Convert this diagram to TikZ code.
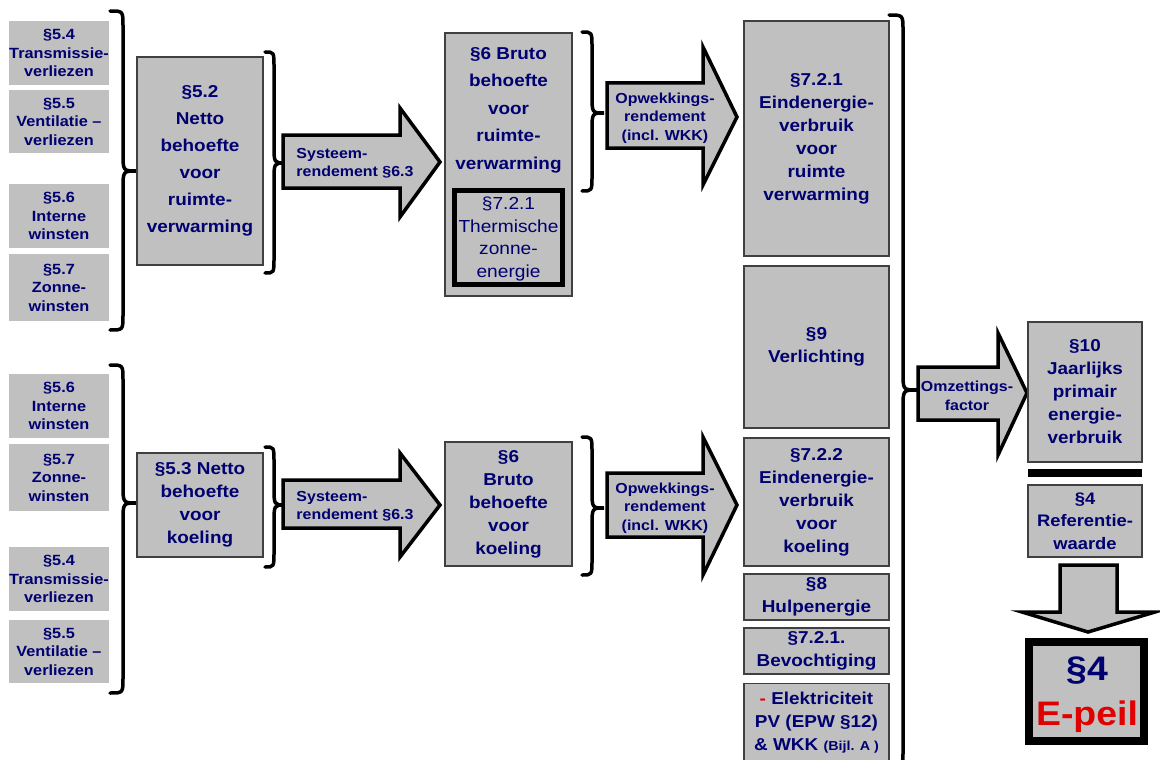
\documentclass[tikz,border=0pt]{standalone}
\usepackage{fontspec}
\setmainfont{Liberation Sans}[FakeStretch=1.1]
\definecolor{boxgray}{HTML}{C0C0C0}
\definecolor{navy}{HTML}{000070}
\definecolor{epred}{HTML}{E00000}
\definecolor{edgegray}{HTML}{404040}
\newcommand\curlyb[6]{%
  \draw[bracestyle] (#1,#4) .. controls ({#2},{#4}) .. ({#2},{#4+15}) -- ({#2},{#5-18})
    .. controls ({#2},{#5}) .. ({#3},{#5}) .. controls ({#2},{#5}) .. ({#2},{#5+18})
    -- ({#2},{#6-15}) .. controls ({#2},{#6}) .. ({#1},{#6});}
\begin{document}
\begin{tikzpicture}[x=1pt,y=-1pt,
  gbox/.style={fill=boxgray, draw=edgegray, line width=1.2pt, inner sep=0pt, text=navy, align=center},
  sbox/.style={fill=boxgray, draw=none, inner sep=0pt, text=navy, align=center,
    minimum width=100pt, font=\fontsize{14.8}{18.5}\selectfont\bfseries},
  bigtxt/.style={font=\fontsize{17.2}{23}\selectfont\bfseries},
  arrtxt/.style={text=navy, inner sep=0pt, font=\fontsize{14.5}{18.5}\selectfont\bfseries},
  blockarrow/.style={fill=boxgray, draw=black, line width=3.5pt, line join=miter},
  bracestyle/.style={draw=black, line width=3.5pt, line cap=round}
]
\useasboundingbox (0,0) rectangle (1160,760);
\fill[white] (0,0) rectangle (1160,760);

% ---------- braces ----------
\curlyb{110}{123}{137}{11}{171}{330}
\curlyb{265}{274}{285}{52}{163}{273}
\curlyb{582}{592}{604}{32}{113}{191}
\curlyb{889}{903}{917}{15}{390}{766}
\curlyb{110}{123}{137}{365}{503}{693}
\curlyb{265}{274}{285}{447}{505}{567}
\curlyb{582}{592}{604}{437}{508}{575}

% ---------- block arrows ----------
\draw[blockarrow] (283,135) -- (400,135) -- (400,108) -- (440,162) -- (400,217) -- (400,188) -- (283,188) -- cycle;
\draw[blockarrow] (283,480) -- (400,480) -- (400,453) -- (440,505) -- (400,557) -- (400,528) -- (283,528) -- cycle;
\draw[blockarrow] (607,83) -- (703,83) -- (703,47) -- (737,117) -- (703,185) -- (703,148) -- (607,148) -- cycle;
\draw[blockarrow] (607,473) -- (703,473) -- (703,437) -- (737,505) -- (703,575) -- (703,537) -- (607,537) -- cycle;
\draw[blockarrow] (918,367) -- (998,367) -- (998,333) -- (1027,393) -- (998,455) -- (998,420) -- (918,420) -- cycle;
\draw[blockarrow] (1060,565) -- (1117,565) -- (1117,612) -- (1155,612) -- (1088,632) -- (1022,612) -- (1060,612) -- cycle;

\node[arrtxt, align=left] (a1) at (355,163) {Systeem-\\rendement §6.3};
\node[arrtxt, align=left] (a2) at (355,506) {Systeem-\\rendement §6.3};
\node[arrtxt, align=center] (a3) at (665,118) {Opwekkings-\\rendement\\(incl. WKK)};
\node[arrtxt, align=center] (a4) at (665,508) {Opwekkings-\\rendement\\(incl. WKK)};
\node[arrtxt, align=center] (a5) at (967,396) {Omzettings-\\factor};

% ---------- left small boxes ----------
\node[sbox, minimum height=64pt] (s54a) at (59,53) {§5.4\\Transmissie-\\verliezen};
\node[sbox, minimum height=63pt] (s55a) at (59,121.5) {§5.5\\Ventilatie –\\verliezen};
\node[sbox, minimum height=64pt] (s56a) at (59,216) {§5.6\\Interne\\winsten};
\node[sbox, minimum height=67pt] (s57a) at (59,287.5) {§5.7\\Zonne-\\winsten};
\node[sbox, minimum height=64pt] (s56b) at (59,406) {§5.6\\Interne\\winsten};
\node[sbox, minimum height=67pt] (s57b) at (59,477.5) {§5.7\\Zonne-\\winsten};
\node[sbox, minimum height=64pt] (s54b) at (59,579) {§5.4\\Transmissie-\\verliezen};
\node[sbox, minimum height=63pt] (s55b) at (59,651.5) {§5.5\\Ventilatie –\\verliezen};

% ---------- netto / bruto ----------
\node[gbox, minimum width=126pt, minimum height=208pt, font=\fontsize{17.2}{27}\selectfont\bfseries] (n52) at (200,161)
  {§5.2\\Netto\\behoefte\\voor\\ruimte-\\verwarming};
\node[gbox, bigtxt, minimum width=126pt, minimum height=104pt] (n53) at (200,505)
  {§5.3 Netto\\behoefte\\voor\\koeling};
\node[gbox, minimum width=127pt, minimum height=263pt] (b6a) at (508.5,164.5) {};
\node[text=navy, align=center, inner sep=0pt, font=\fontsize{17.2}{27.5}\selectfont\bfseries] (b6atxt) at (508.5,110)
  {§6 Bruto\\behoefte\\voor\\ruimte-\\verwarming};
\node[draw=black, line width=5pt, inner sep=0pt, minimum width=108pt, minimum height=94pt] (therm) at (508.5,237.5) {};
\node[text=navy, align=center, inner sep=0pt, font=\fontsize{17.4}{22.5}\selectfont] (thermtxt) at (508.5,239)
  {§7.2.1\\Thermische\\zonne-\\energie};
\node[gbox, bigtxt, minimum width=127pt, minimum height=124pt] (b6b) at (508.5,504)
  {§6\\Bruto\\behoefte\\voor\\koeling};

% ---------- right column ----------
\node[gbox, bigtxt, minimum width=145pt, minimum height=235pt] (r721) at (816.5,138.5)
  {§7.2.1\\Eindenergie-\\verbruik\\voor\\ruimte\\verwarming};
\node[gbox, bigtxt, minimum width=145pt, minimum height=162pt] (r9) at (816.5,347)
  {§9\\Verlichting};
\node[gbox, bigtxt, minimum width=145pt, minimum height=128pt] (r722) at (816.5,502)
  {§7.2.2\\Eindenergie-\\verbruik\\voor\\koeling};
\node[gbox, bigtxt, minimum width=145pt, minimum height=46pt] (r8) at (816.5,597)
  {§8\\Hulpenergie};
\node[gbox, bigtxt, minimum width=145pt, minimum height=46pt] (r7b) at (816.5,651)
  {§7.2.1.\\Bevochtiging};
\node[gbox, bigtxt, minimum width=145pt, minimum height=80pt, anchor=north] (rel) at (816.5,683) {};
\node[text=navy, align=center, inner sep=0pt, bigtxt] (reltxt) at (816.5,723)
  {{\color{epred}-} Elektriciteit\\PV (EPW §12)\\\& WKK {\fontsize{13}{23}\selectfont (Bijl. A )}};

% ---------- result ----------
\node[gbox, bigtxt, minimum width=114pt, minimum height=140pt] (b10) at (1085,392)
  {§10\\Jaarlijks\\primair\\energie-\\verbruik};
\node[fill=black, inner sep=0pt, minimum width=114pt, minimum height=8pt] (bar) at (1085,473) {};
\node[gbox, minimum width=114pt, minimum height=72pt, font=\fontsize{16.7}{22.5}\selectfont\bfseries] (ref) at (1085,521)
  {§4\\Referentie-\\waarde};
\node[fill=boxgray, draw=black, line width=8pt, inner sep=0pt, minimum width=115pt, minimum height=99pt] (epeil) at (1086.5,691.5) {};
\node[align=center, inner sep=0pt, font=\fontsize{34}{45}\selectfont\bfseries] (epeiltxt) at (1087,695)
  {\textcolor{navy}{§4}\\\textcolor{epred}{E-peil}};
\end{tikzpicture}
\end{document}
